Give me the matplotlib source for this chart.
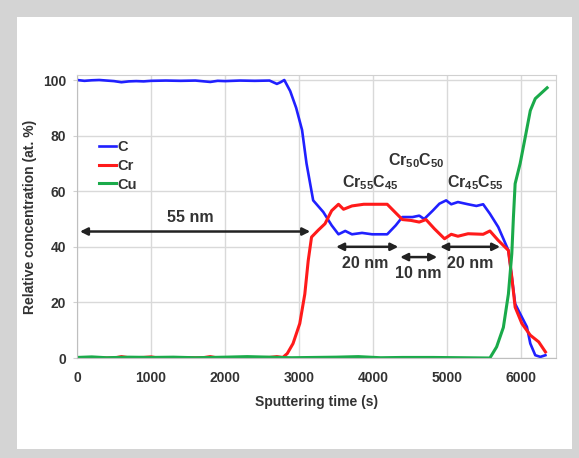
import matplotlib
matplotlib.use("Agg")
import matplotlib.pyplot as plt
from matplotlib.patches import Rectangle

# --- data ---
c_time = [0, 100, 200, 300, 400, 500, 600, 700, 800, 900, 1000, 1200, 1400, 1600,
          1800, 1900, 2000, 2200, 2400, 2600, 2700, 2750, 2800, 2880, 2960, 3040,
          3100, 3190, 3327, 3440, 3532, 3623, 3714, 3850, 3986, 4190, 4305, 4395,
          4532, 4623, 4690, 4805, 4895, 4986, 5055, 5145, 5282, 5395, 5486, 5577,
          5690, 5759, 5827, 5873, 5918, 5986, 6077, 6123, 6190, 6259, 6327]
c_val = [100, 99.7, 99.9, 100, 99.8, 99.6, 99.2, 99.5, 99.6, 99.5, 99.7, 99.8, 99.7,
         99.8, 99.3, 99.7, 99.6, 99.8, 99.7, 99.8, 98.6, 99.2, 100, 96, 90, 82,
         70, 56.7, 52.5, 47.7, 44.5, 45.7, 44.5, 45, 44.5, 44.5, 47.7, 50.7,
         50.7, 51.2, 50, 53, 55.5, 56.7, 55.3, 56.1, 55.3, 54.7, 55.3, 51.9,
         47.1, 42.9, 38.7, 29.1, 19.5, 15.9, 11.2, 5.2, 1.0, 0.4, 1.0]

cr_time = [0, 500, 600, 700, 900, 1000, 1100, 1700, 1800, 1900, 2600, 2700, 2780,
           2840, 2918, 3009, 3077, 3123, 3168, 3259, 3350, 3440, 3532, 3600, 3714,
           3873, 4100, 4190, 4305, 4395, 4509, 4623, 4714, 4827, 4964, 5055, 5145,
           5282, 5486, 5577, 5690, 5827, 5873, 5918, 6009, 6123, 6236, 6327]
cr_val = [0, 0, 0.5, 0.1, 0.2, 0.4, 0, 0.1, 0.5, 0, 0.2, 0.5, 0.2,
          1.6, 5.2, 12.4, 23, 35, 43.5, 46, 48.3, 53, 55.3, 53.5, 54.7,
          55.3, 55.3, 55.3, 52.2, 49.8, 49.5, 48.9, 49.8, 46.5, 42.9, 44.5, 43.8,
          44.7, 44.5, 45.7, 42.3, 38.7, 29.1, 18.3, 12.4, 8.2, 5.8, 2.2]

cu_time = [0, 200, 400, 700, 1000, 1300, 1600, 2000, 2300, 2600, 2900, 3200, 3500,
           3800, 4100, 4400, 4800, 5200, 5577, 5668, 5759, 5827, 5873, 5895, 5918,
           5986, 6055, 6123, 6190, 6350]
cu_val = [0.2, 0.4, 0.1, 0.3, 0.2, 0.3, 0.1, 0.3, 0.5, 0.3, 0.1, 0.2, 0.3,
          0.5, 0.1, 0.2, 0.2, 0.1, 0, 4, 11, 23, 37.5, 50.7, 62.7,
          70, 79.5, 89, 93.3, 97.2]

layers = ["55 nm", "20 nm", "10 nm", "20 nm"]
layer_span = [(40, 3150), (3500, 4340), (4365, 4865), (4905, 5715)]
layer_arrow_y = [45.5, 40, 36.3, 40]
layer_text_xy = [(1530, 50.5), (3890, 34), (4610, 30.5), (5310, 34)]

phases = ["Cr$_{55}$C$_{45}$", "Cr$_{50}$C$_{50}$", "Cr$_{45}$C$_{55}$"]
phase_xy = [(3960, 63), (4580, 71), (5380, 63)]

plt.rcParams["font.family"] = ["Liberation Sans", "DejaVu Sans"]
plt.rcParams["font.weight"] = "bold"
plt.rcParams["mathtext.default"] = "regular"
txt = "#333333"

fig = plt.figure(figsize=(5.79, 4.58), dpi=100)
fig.patch.set_facecolor("#d4d4d4")
fig.patches.append(Rectangle((17 / 579, 1 - 449 / 458), (572 - 17) / 579, (449 - 17) / 458,
                             transform=fig.transFigure, facecolor="white",
                             edgecolor="none", zorder=-10))

ax = fig.add_axes([77 / 579, 1 - 358 / 458, (556 - 77) / 579, (358 - 75) / 458])
ax.set_facecolor("white")

ax.plot(c_time, c_val, color="#2020ff", lw=1.9, label="C")
ax.plot(cr_time, cr_val, color="#ff1a1a", lw=2.2, label="Cr")
ax.plot(cu_time, cu_val, color="#1aaa4a", lw=2.2, label="Cu")

for lab, (x0, x1), y, (tx, ty) in zip(layers, layer_span, layer_arrow_y, layer_text_xy):
    ax.annotate("", xy=(x1, y), xytext=(x0, y),
                arrowprops=dict(arrowstyle="<|-|>", color="#222222", lw=1.8,
                                mutation_scale=11, shrinkA=0, shrinkB=0))
    ax.text(tx, ty, lab, ha="center", va="center", fontsize=11.5, color=txt,
            fontweight="bold")

for lab, (tx, ty) in zip(phases, phase_xy):
    ax.text(tx, ty, lab, ha="center", va="center", fontsize=11.5, color=txt,
            fontweight="bold")

ax.set_xlim(0, 6470)
ax.set_ylim(0, 101.8)
ax.set_xticks(range(0, 7000, 1000))
ax.set_yticks(range(0, 101, 20))
ax.grid(True, color="#d9d9d9", lw=1.0)
ax.set_axisbelow(True)
for s in ax.spines.values():
    s.set_color("#d0d0d0")
ax.spines["left"].set_color("#bfbfbf")
ax.spines["bottom"].set_color("#bfbfbf")
ax.tick_params(axis="y", length=3, color="#d0d0d0", labelsize=10, labelcolor=txt, pad=5)
ax.tick_params(axis="x", length=0, labelsize=10, labelcolor=txt, pad=9)

ax.set_xlabel("Sputtering time (s)", fontsize=10, color=txt, fontweight="bold", labelpad=7.5)
ax.set_ylabel("Relative concentration (at. %)", fontsize=10, color=txt,
              fontweight="bold", labelpad=4)

leg = ax.legend(loc="upper left", bbox_to_anchor=(0.033, 0.79), frameon=False,
                handlelength=1.2, handletextpad=0.1, labelspacing=0.32,
                fontsize=10.5, borderaxespad=0)
for t in leg.get_texts():
    t.set_color(txt)

fig.savefig("out.png", dpi=100, facecolor=fig.get_facecolor())
